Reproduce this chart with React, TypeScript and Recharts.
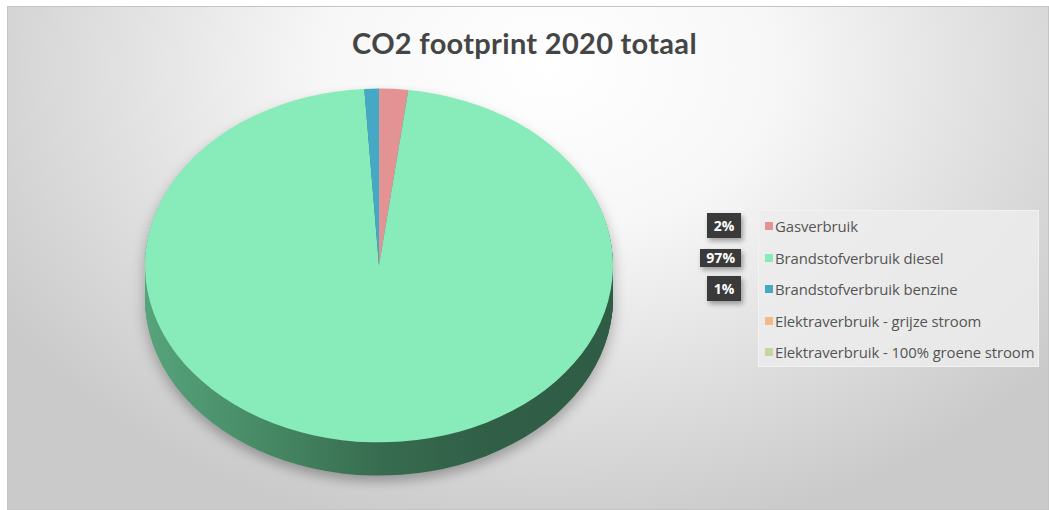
import { PieChart, Pie, Cell } from 'recharts'

const categories = [
  'Gasverbruik',
  'Brandstofverbruik diesel',
  'Brandstofverbruik benzine',
  'Elektraverbruik - grijze stroom',
  'Elektraverbruik - 100% groene stroom',
]
const values = [2, 97, 1, 0, 0]
const topColors = ['#e39393', '#88ecba', '#45a9c6', '#f7b985', '#c3d89d']
const sideColors = ['#9c5e5e', 'url(#dieselSide)', '#2c7089', '#b07c50', '#83985f']

const data = categories.map((name, i) => ({ name, value: values[i] }))
const total = values.reduce((a, b) => a + b, 0)

// 3D look: pie drawn circular, squashed with scaleY, side made of stacked layers
const SCALE_Y = 0.756
const RADIUS = 234
const DEPTH = 44
const CX = 240
const CY = 240
const sideLayers = Array.from({ length: DEPTH }, (_, i) => CY + DEPTH - i)

export default function App() {
  return (
    <div style={{ position: 'absolute', left: 0, top: 0, width: 1049, height: 510, background: '#fff', overflow: 'hidden' }}>
      <div
        style={{
          position: 'absolute', left: 7, top: 6, width: 1042, height: 504,
          border: '1px solid #c4c4c4', boxSizing: 'border-box',
          background: 'radial-gradient(ellipse 62% 95% at 52% 12%, #ffffff 0%, #f7f7f7 35%, #e2e2e2 65%, #cacaca 100%)',
        }}
      />
      <div
        style={{
          position: 'absolute', left: 0, top: 25, width: 1049, textAlign: 'center',
          fontFamily: 'Lato, sans-serif', fontSize: 29, fontWeight: 700, color: '#454545',
          letterSpacing: 0.3,
        }}
      >
        CO2 footprint 2020 totaal
      </div>

      <div
        style={{
          position: 'absolute', left: 379 - CX, top: 265 - CY * SCALE_Y,
          transform: `scaleY(${SCALE_Y})`, transformOrigin: 'top left',
          filter: 'drop-shadow(0px 8px 7px rgba(0,0,0,0.28))',
        }}
      >
        <PieChart width={480} height={540} margin={{ top: 0, right: 0, bottom: 0, left: 0 }}>
          <defs>
            <linearGradient id="dieselSide" x1="0" y1="0" x2="1" y2="0">
              <stop offset="0%" stopColor="#56a47b" />
              <stop offset="25%" stopColor="#478a65" />
              <stop offset="50%" stopColor="#376c50" />
              <stop offset="75%" stopColor="#305e46" />
              <stop offset="100%" stopColor="#2f5c44" />
            </linearGradient>
          </defs>
          {sideLayers.map((cy) => (
            <Pie
              key={cy}
              data={data}
              dataKey="value"
              cx={CX}
              cy={cy}
              outerRadius={RADIUS}
              startAngle={90}
              endAngle={-270}
              stroke="none"
              isAnimationActive={false}
            >
              {data.map((d, i) => (
                <Cell key={d.name} fill={sideColors[i]} stroke="none" />
              ))}
            </Pie>
          ))}
          <Pie
            data={data}
            dataKey="value"
            cx={CX}
            cy={CY}
            outerRadius={RADIUS}
            startAngle={90}
            endAngle={-270}
            stroke="none"
            isAnimationActive={false}
          >
            {data.map((d, i) => (
              <Cell key={d.name} fill={topColors[i]} stroke="none" />
            ))}
          </Pie>
        </PieChart>
      </div>

      {/* legend */}
      <div
        style={{
          position: 'absolute', left: 758, top: 210, width: 281, height: 157,
          background: 'rgba(236,236,236,0.85)', border: '1px solid #f2f2f2', boxSizing: 'border-box',
        }}
      />
      {data.map((d, i) => {
        const y = 226 + i * 31.5
        const pct = Math.round((d.value / total) * 100)
        return (
          <div key={d.name}>
            <div
              style={{
                position: 'absolute', left: 765, top: y - 4, width: 8, height: 8, background: topColors[i],
              }}
            />
            <div
              style={{
                position: 'absolute', left: 775, top: y - 11, fontFamily: '"Open Sans", sans-serif', fontSize: 14.9,
                color: '#555555', whiteSpace: 'nowrap', lineHeight: '22px', letterSpacing: -0.1,
              }}
            >
              {d.name}
            </div>
            {d.value > 0 && (
              <div
                style={{
                  position: 'absolute', right: 1049 - 741, top: y - 13 + (i === 1 ? 4 : 0),
                  height: i === 1 ? 18 : 25, padding: '0 6px', background: '#3a3a3a',
                  color: '#fff', fontFamily: '"Open Sans", sans-serif', fontWeight: 700, fontSize: 14,
                  lineHeight: i === 1 ? '18px' : '25px', boxShadow: '2px 3px 5px rgba(0,0,0,0.35)',
                  minWidth: 22, textAlign: 'center',
                }}
              >
                {pct}%
              </div>
            )}
          </div>
        )
      })}
    </div>
  )
}
